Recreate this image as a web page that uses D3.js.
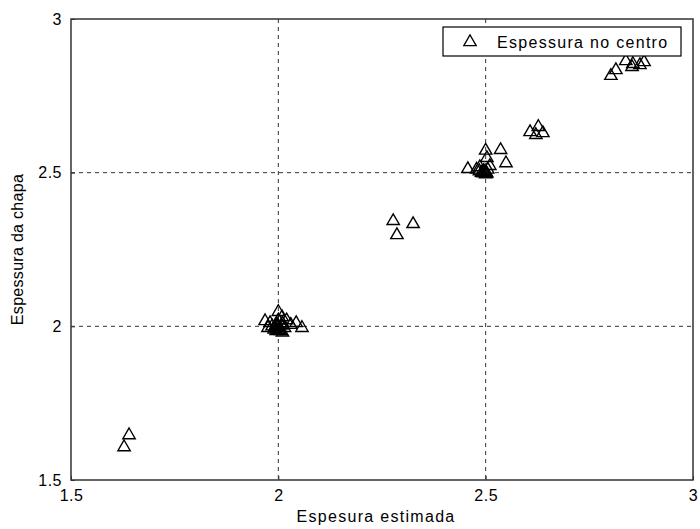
<!DOCTYPE html>
<html>
<head>
<meta charset="utf-8">
<script src="https://cdn.jsdelivr.net/npm/d3@7"></script>
<style>
    body { margin: 0; background: #fff; }
    text { font-family: "Liberation Sans", Arial, sans-serif; fill: #000; }
</style>
</head>
<body>
<script>
// Espessura estimada (x) vs espessura da chapa (y)
const estimada = [
    1.640, 1.628,
    2.000, 1.968, 2.057, 2.043, 2.009, 1.980, 2.000, 1.990, 2.010, 1.985, 2.020,
    2.005, 1.995, 2.015, 2.000, 2.010, 1.975, 2.030, 1.995, 2.003, 1.997, 2.008,
    1.992, 2.001,
    2.277, 2.325, 2.286,
    2.500, 2.536, 2.549, 2.457, 2.503, 2.486, 2.510, 2.495, 2.490, 2.500, 2.505,
    2.485, 2.500, 2.478, 2.493, 2.497, 2.503,
    2.627, 2.607, 2.638, 2.621,
    2.838, 2.855, 2.882, 2.872, 2.853, 2.814, 2.802
];
const chapa = [
    1.646, 1.607,
    2.047, 2.017, 1.995, 2.011, 2.030, 2.011, 2.000, 1.990, 2.010, 2.000, 2.020,
    1.985, 2.005, 1.995, 2.020, 1.980, 1.995, 2.005, 1.985, 1.993, 1.997, 2.003,
    1.998, 1.988,
    2.343, 2.333, 2.297,
    2.572, 2.574, 2.531, 2.512, 2.548, 2.518, 2.522, 2.505, 2.500, 2.500, 2.510,
    2.505, 2.495, 2.510, 2.498, 2.503, 2.497,
    2.649, 2.632, 2.629, 2.623,
    2.863, 2.854, 2.860, 2.850, 2.844, 2.834, 2.815
];
const xTicks = [1.5, 2, 2.5, 3];
const yTicks = [1.5, 2, 2.5, 3];
const legendLabel = 'Espessura no centro';

const width = 700, height = 529;
const margin = { top: 19, right: 7, bottom: 49, left: 71 };
const plotW = width - margin.left - margin.right;
const plotH = height - margin.top - margin.bottom;

const svg = d3.select('body').append('svg')
    .attr('width', width)
    .attr('height', height);

const g = svg.append('g')
    .attr('transform', `translate(${margin.left},${margin.top})`);

const x = d3.scaleLinear().domain([1.5, 3]).range([0, plotW]);
const y = d3.scaleLinear().domain([1.5, 3]).range([plotH, 0]);

// grid lines (dashed)
g.append('g')
    .selectAll('line')
    .data(xTicks.slice(1, -1))
    .join('line')
    .attr('x1', d => x(d)).attr('x2', d => x(d))
    .attr('y1', 0).attr('y2', plotH)
    .attr('stroke', '#333')
    .attr('stroke-dasharray', '4,4');

g.append('g')
    .selectAll('line')
    .data(yTicks.slice(1, -1))
    .join('line')
    .attr('x1', 0).attr('x2', plotW)
    .attr('y1', d => y(d)).attr('y2', d => y(d))
    .attr('stroke', '#333')
    .attr('stroke-dasharray', '4,4');

// axes
const xAxis = g.append('g')
    .attr('transform', `translate(0,${plotH})`)
    .call(d3.axisBottom(x).tickValues(xTicks).tickFormat(d3.format('')).tickSizeInner(-4).tickSizeOuter(0).tickPadding(10));
const yAxis = g.append('g')
    .call(d3.axisLeft(y).tickValues(yTicks).tickFormat(d3.format('')).tickSizeInner(-4).tickSizeOuter(0).tickPadding(9));

[xAxis, yAxis].forEach(a => {
    a.select('.domain').remove();
    a.selectAll('line').attr('stroke', '#333');
    a.selectAll('text').style('font-size', '16px').style('letter-spacing', '0.5px').attr('fill', '#000');
});

// frame
g.append('rect')
    .attr('width', plotW)
    .attr('height', plotH)
    .attr('fill', 'none')
    .attr('stroke', '#333')
    .attr('stroke-width', 1.5);

// triangle markers
const tri = d3.symbol().type(d3.symbolTriangle).size(66);
g.append('g')
    .selectAll('path')
    .data(estimada.map((e, i) => [e, chapa[i]]))
    .join('path')
    .attr('d', tri)
    .attr('transform', d => `translate(${x(d[0])},${y(d[1])})`)
    .attr('fill', 'none')
    .attr('stroke', '#000')
    .attr('stroke-width', 1.4);

// legend
const leg = svg.append('g').attr('transform', 'translate(443,27)');
leg.append('rect')
    .attr('width', 238)
    .attr('height', 29)
    .attr('fill', '#fff')
    .attr('stroke', '#000')
    .attr('stroke-width', 1.2);
leg.append('path')
    .attr('d', tri)
    .attr('transform', 'translate(27,15)')
    .attr('fill', 'none')
    .attr('stroke', '#000')
    .attr('stroke-width', 1.3);
leg.append('text')
    .attr('x', 54)
    .attr('y', 20.5)
    .style('font-size', '16px')
    .style('letter-spacing', '1.3px')
    .text(legendLabel);

// axis labels
svg.append('text')
    .attr('text-anchor', 'middle')
    .attr('x', margin.left + plotW / 2 - 6)
    .attr('y', 522)
    .style('font-size', '16px')
    .style('letter-spacing', '1.3px')
    .text('Espesura estimada');

svg.append('text')
    .attr('text-anchor', 'middle')
    .attr('transform', `translate(23,${margin.top + plotH / 2}) rotate(-90)`)
    .style('font-size', '16px')
    .style('letter-spacing', '0.3px')
    .text('Espessura da chapa');
</script>
</body>
</html>
